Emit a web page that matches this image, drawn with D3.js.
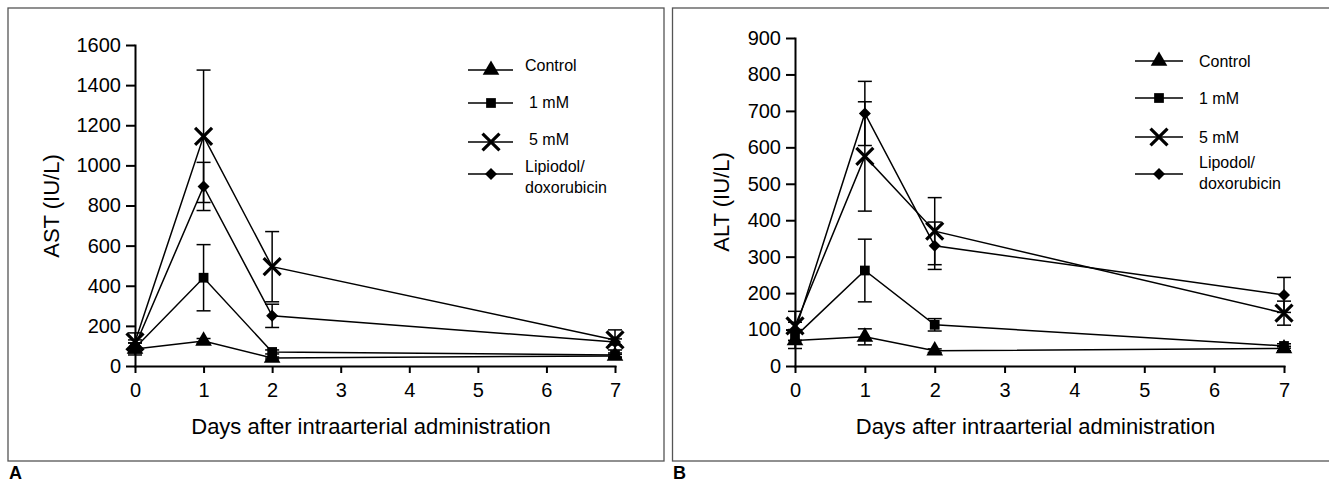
<!DOCTYPE html>
<html>
<head>
<meta charset="utf-8">
<script src="https://cdn.jsdelivr.net/npm/d3@7"></script>
<style>
  body { margin: 0; background: #fff; }
  svg { display: block; font-family: "Liberation Sans", Arial, sans-serif; }
  .axis path, .axis line { stroke: #000; stroke-width: 2; }
  .axis text { font-size: 20px; fill: #000; }
</style>
</head>
<body>
<script>
// x values (days)
const days = [0, 1, 2, 7];
const dayTicks = [0, 1, 2, 3, 4, 5, 6, 7];

// panel A: AST (IU/L)
const astControl = [85, 125, 40, 50];
const astControlErr = [30, 12, 5, 8];
const ast1mM = [90, 440, 70, 55];
const ast1mMErr = [25, 165, 10, 10];
const ast5mM = [120, 1145, 495, 130];
const ast5mMErr = [45, 330, 175, 50];
const astLip = [100, 895, 250, 120];
const astLipErr = [30, 120, 58, 15];
const astTicks = [0, 200, 400, 600, 800, 1000, 1200, 1400, 1600];

// panel B: ALT (IU/L)
const altControl = [70, 80, 42, 48];
const altControlErr = [22, 22, 5, 6];
const alt1mM = [80, 262, 113, 55];
const alt1mMErr = [20, 86, 17, 6];
const alt5mM = [110, 575, 370, 145];
const alt5mMErr = [40, 150, 92, 33];
const altLip = [95, 693, 330, 195];
const altLipErr = [25, 88, 65, 48];
const altTicks = [0, 100, 200, 300, 400, 500, 600, 700, 800, 900];

const markers = ['triangle', 'square', 'times', 'diamond'];

const svg = d3.select('body').append('svg')
  .attr('width', 1329)
  .attr('height', 485);

// frames round each panel
svg.append('rect').attr('x', 8).attr('y', 8).attr('width', 656).attr('height', 453)
   .attr('fill', 'none').attr('stroke', '#555').attr('stroke-width', 1.3);
svg.append('rect').attr('x', 672.5).attr('y', 8).attr('width', 670).attr('height', 453)
   .attr('fill', 'none').attr('stroke', '#555').attr('stroke-width', 1.3);

svg.append('text').attr('x', 9).attr('y', 479).attr('font-size', 18)
   .attr('font-weight', 'bold').text('A');
svg.append('text').attr('x', 673).attr('y', 479).attr('font-size', 18)
   .attr('font-weight', 'bold').text('B');

/**
 * draw one marker symbol at (0,0) of the given group
 */
function drawMarker(g, type) {
  if (type === 'triangle') {
    g.append('path').attr('d', d3.symbol(d3.symbolTriangle, 120)()).attr('fill', '#000');
  } else if (type === 'square') {
    g.append('path').attr('d', d3.symbol(d3.symbolSquare, 95)()).attr('fill', '#000');
  } else if (type === 'diamond') {
    g.append('path').attr('d', d3.symbol(d3.symbolSquare, 72)())
     .attr('transform', 'rotate(45)').attr('fill', '#000');
  } else {
    g.append('path').attr('d', d3.symbol(d3.symbolTimes, 190)())
     .attr('fill', 'none').attr('stroke', '#000').attr('stroke-width', 3.2);
  }
}

function drawPanel(p) {
  let x = d3.scaleLinear().domain([0, 7]).range(p.xRange);
  let y = d3.scaleLinear().domain([0, p.yMax]).range(p.yRange);
  let g = svg.append('g');

  g.append('g').attr('class', 'axis')
   .attr('transform', `translate(0, ${p.yRange[0]})`)
   .call(d3.axisBottom(x).tickValues(dayTicks).tickFormat(d3.format('d'))
     .tickSize(7).tickSizeOuter(0).tickPadding(10));

  g.append('g').attr('class', 'axis')
   .attr('transform', `translate(${p.xRange[0]}, 0)`)
   .call(d3.axisLeft(y).tickValues(p.yTicks).tickFormat(d3.format('d'))
     .tickSize(9).tickSizeOuter(0).tickPadding(5));

  g.selectAll('.axis .domain').attr('stroke-linecap', 'square');

  // axis titles
  g.append('text').attr('x', (p.xRange[0] + p.xRange[1]) / 2 - 4).attr('y', 434)
   .attr('text-anchor', 'middle').attr('font-size', 22).text('Days after intraarterial administration');
  g.append('text').attr('transform', `translate(${p.yTitleX}, ${p.yTitleY}) rotate(-90)`)
   .attr('text-anchor', 'middle').attr('font-size', 22).text(p.yTitle);

  let line = d3.line().x((d) => x(d.day)).y((d) => y(d.value));

  p.series.forEach((s, i) => {
    let pts = days.map((d, j) => ({day: d, value: s.values[j], err: s.errs[j]}));
    let sg = g.append('g');

    sg.append('path').datum(pts).attr('d', line)
      .attr('fill', 'none').attr('stroke', '#000').attr('stroke-width', 1.5);

    // error bars
    let eb = sg.selectAll('g.err').data(pts).enter().append('g').classed('err', true);
    eb.append('line')
      .attr('x1', (d) => x(d.day)).attr('x2', (d) => x(d.day))
      .attr('y1', (d) => y(d.value - d.err)).attr('y2', (d) => y(d.value + d.err));
    eb.append('line')
      .attr('x1', (d) => x(d.day) - 7).attr('x2', (d) => x(d.day) + 7)
      .attr('y1', (d) => y(d.value + d.err)).attr('y2', (d) => y(d.value + d.err));
    eb.append('line')
      .attr('x1', (d) => x(d.day) - 7).attr('x2', (d) => x(d.day) + 7)
      .attr('y1', (d) => y(d.value - d.err)).attr('y2', (d) => y(d.value - d.err));
    eb.selectAll('line').attr('stroke', '#000').attr('stroke-width', 1.5);

    pts.forEach((d) => {
      drawMarker(sg.append('g').attr('transform', `translate(${x(d.day)}, ${y(d.value)})`), markers[i]);
    });
  });

  // legend
  let lg = g.append('g');
  p.legend.forEach((row, i) => {
    lg.append('line').attr('x1', p.legX[0]).attr('x2', p.legX[2])
      .attr('y1', row.y).attr('y2', row.y).attr('stroke', '#000').attr('stroke-width', 1.5);
    drawMarker(lg.append('g').attr('transform', `translate(${p.legX[1]}, ${row.y})`), markers[i]);
    row.lines.forEach((t, k) => {
      lg.append('text').attr('x', p.legTextX + (row.dx || 0)).attr('y', row.base[k])
        .attr('font-size', 16).text(t);
    });
  });
}

drawPanel({
  xRange: [135, 615],
  yRange: [366, 45],
  yMax: 1600,
  yTicks: astTicks,
  yTitle: 'AST (IU/L)',
  yTitleX: 59,
  yTitleY: 206,
  series: [
    {values: astControl, errs: astControlErr},
    {values: ast1mM, errs: ast1mMErr},
    {values: ast5mM, errs: ast5mMErr},
    {values: astLip, errs: astLipErr},
  ],
  legX: [468, 491, 513],
  legTextX: 525,
  legend: [
    {y: 70, base: [71], lines: ['Control']},
    {y: 103, base: [108], lines: ['1 mM'], dx: 4},
    {y: 142, base: [145], lines: ['5 mM'], dx: 4},
    {y: 174, base: [172, 193], lines: ['Lipiodol/', 'doxorubicin']},
  ],
});

drawPanel({
  xRange: [795, 1284],
  yRange: [366, 38],
  yMax: 900,
  yTicks: altTicks,
  yTitle: 'ALT (IU/L)',
  yTitleX: 729,
  yTitleY: 202,
  series: [
    {values: altControl, errs: altControlErr},
    {values: alt1mM, errs: alt1mMErr},
    {values: alt5mM, errs: alt5mMErr},
    {values: altLip, errs: altLipErr},
  ],
  legX: [1135, 1159, 1183],
  legTextX: 1199,
  legend: [
    {y: 61, base: [67], lines: ['Control']},
    {y: 98, base: [104], lines: ['1 mM']},
    {y: 137, base: [143], lines: ['5 mM']},
    {y: 174, base: [168, 189], lines: ['Lipodol/', 'doxorubicin']},
  ],
});
</script>
</body>
</html>
